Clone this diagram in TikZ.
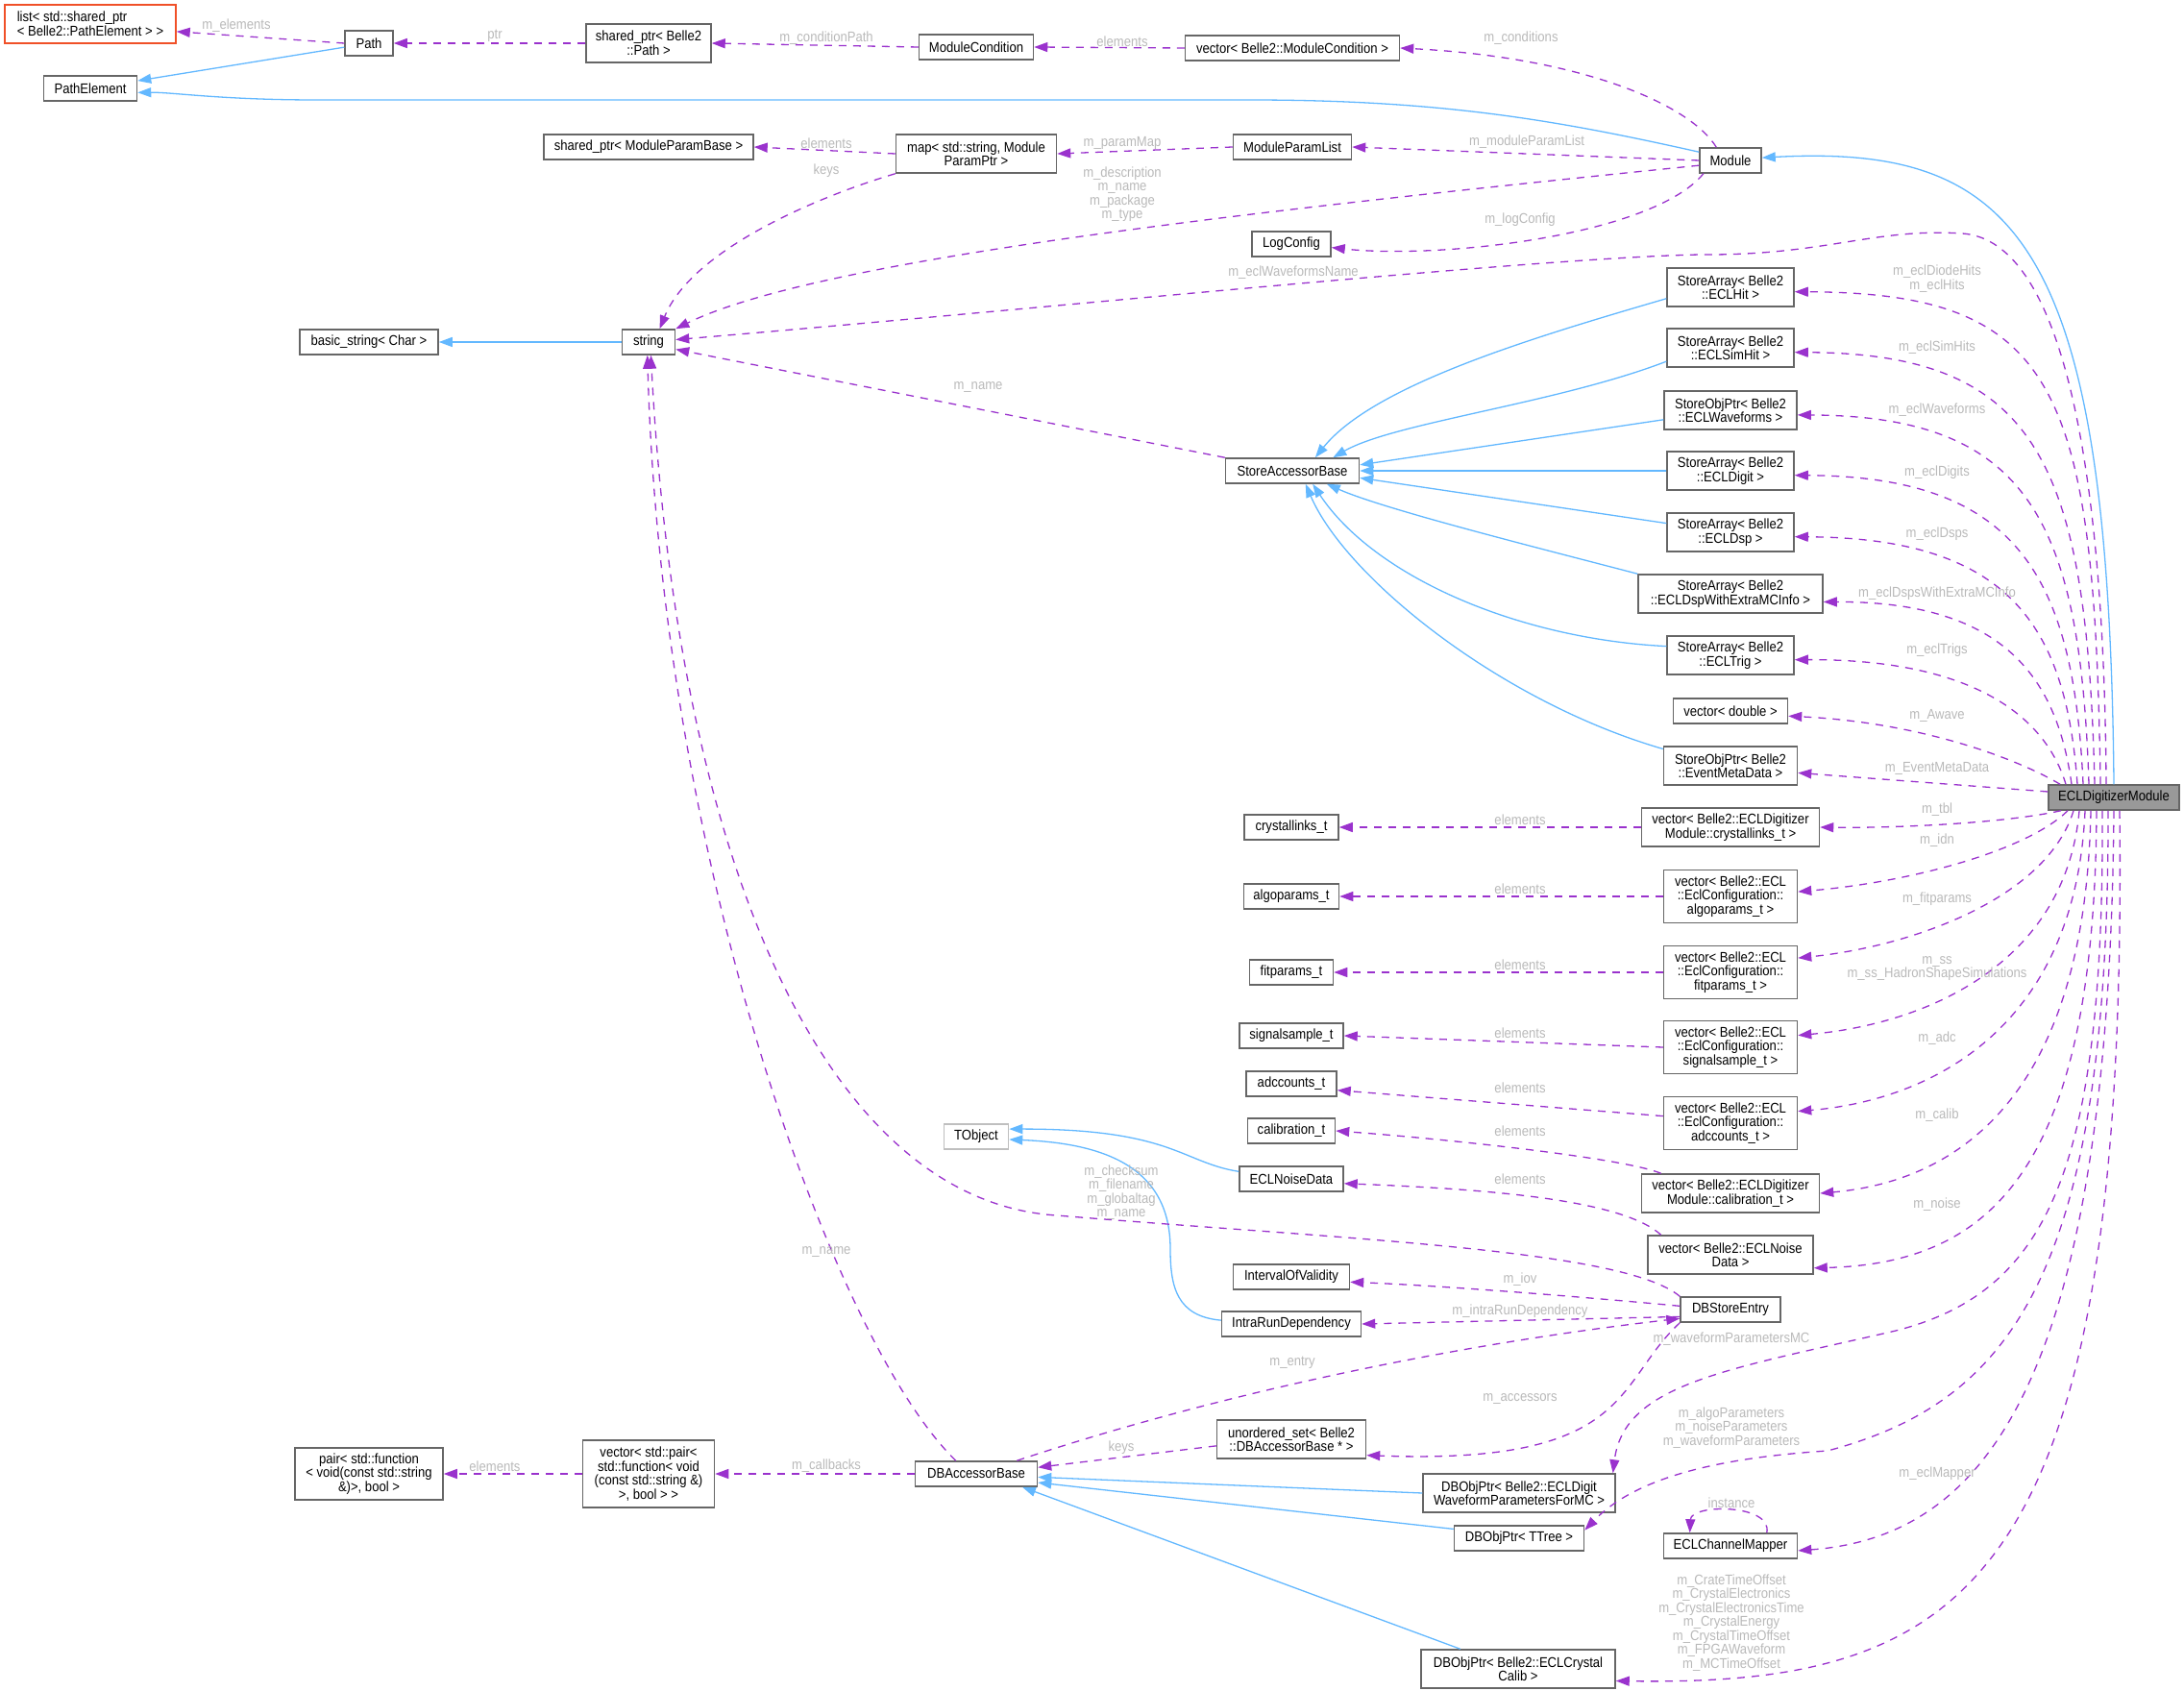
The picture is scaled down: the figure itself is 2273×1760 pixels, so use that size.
\documentclass[tikz,border=0pt]{standalone}
\usepackage{fontspec}
\setmainfont{Liberation Sans}[FakeStretch=0.89]
\usetikzlibrary{arrows.meta}
\definecolor{inhblue}{RGB}{99,184,255}
\definecolor{usepurple}{RGB}{154,50,205}
\definecolor{boxgray}{RGB}{102,102,102}
\definecolor{lblgray}{RGB}{185,185,185}
\definecolor{trunc}{RGB}{240,80,40}
\definecolor{extgray}{RGB}{191,191,191}
\definecolor{mainfill}{RGB}{153,153,153}
\begin{document}
\begin{tikzpicture}[x=1pt,y=-1pt]
  \tikzstyle{every node}=[font=\fontsize{14.7}{14.5}\selectfont]
  \tikzstyle{box}=[draw=boxgray,line width=1.5pt,fill=white,align=center,inner sep=0pt,minimum height=26pt]
  \tikzstyle{lbl}=[text=lblgray,align=center,inner sep=0pt]
  \tikzstyle{inh}=[draw=inhblue,line width=1.3pt,-{Triangle[length=14pt,width=10pt]}]
  \tikzstyle{mem}=[draw=usepurple,line width=1.3pt,dash pattern=on 8pt off 7pt,-{Triangle[length=14pt,width=10pt]}]
  \useasboundingbox (0,0) rectangle (2273,1760);
  % left part
  \node[box,draw=trunc,align=left,minimum width=178pt,minimum height=40pt] (listsp) at (94,25) {list< std::shared\_ptr\\< Belle2::PathElement > >};
  \node[box,minimum width=97pt] (pathelem) at (94,92) {PathElement};
  \node[box,minimum width=50pt] (path) at (384,45) {Path};
  \node[box,minimum width=144pt] (basicstring) at (384,356) {basic\_string< Char >};
  \node[box,minimum width=154pt,minimum height=54pt] (pair) at (384,1534) {pair< std::function\\< void(const std::string\\\&)>, bool >};
  \node[box,minimum width=130pt,minimum height=40pt] (sharedpath) at (675,45) {shared\_ptr< Belle2\\::Path >};
  \node[box,minimum width=218pt] (sharedmpb) at (675,153) {shared\_ptr< ModuleParamBase >};
  \node[box,minimum width=55pt] (string) at (675,356) {string};
  \node[box,minimum width=137pt,minimum height=70pt] (vecpair) at (675,1534) {vector< std::pair<\\std::function< void\\(const std::string \&)\\>, bool > >};
  % middle columns
  \node[box,minimum width=119pt] (modcond) at (1016,49) {ModuleCondition};
  \node[box,minimum width=167pt,minimum height=40pt] (mapparam) at (1016,160) {map< std::string, Module\\ParamPtr >};
  \node[box,draw=extgray,minimum width=67pt] (tobject) at (1016,1183) {TObject};
  \node[box,minimum width=127pt] (dba) at (1016,1534) {DBAccessorBase};
  \node[box,minimum width=223pt] (vecmodcond) at (1345,50) {vector< Belle2::ModuleCondition >};
  \node[box,minimum width=123pt] (mplist) at (1345,153) {ModuleParamList};
  \node[box,minimum width=82pt] (logconfig) at (1344,254) {LogConfig};
  \node[box,minimum width=139pt] (sab) at (1345,490) {StoreAccessorBase};
  \node[box,minimum width=98pt] (crystallinks) at (1344,861) {crystallinks\_t};
  \node[box,minimum width=99pt] (algoparams) at (1344,933) {algoparams\_t};
  \node[box,minimum width=87pt] (fitparams) at (1344,1012) {fitparams\_t};
  \node[box,minimum width=108pt] (signalsample) at (1344,1078) {signalsample\_t};
  \node[box,minimum width=94pt] (adccounts) at (1344,1128) {adccounts\_t};
  \node[box,minimum width=91pt] (calibration) at (1344,1177) {calibration\_t};
  \node[box,minimum width=108pt] (noisedata) at (1344,1227) {ECLNoiseData};
  \node[box,minimum width=121pt] (iov) at (1344,1329) {IntervalOfValidity};
  \node[box,minimum width=145pt] (intrarun) at (1344,1378) {IntraRunDependency};
  \node[box,minimum width=155pt,minimum height=40pt] (unordered) at (1344,1498) {unordered\_set< Belle2\\::DBAccessorBase * >};
  \node[box,minimum width=200pt,minimum height=40pt] (dbwave) at (1581,1554) {DBObjPtr< Belle2::ECLDigit\\WaveformParametersForMC >};
  \node[box,minimum width=135pt] (dbtree) at (1581,1601) {DBObjPtr< TTree >};
  \node[box,minimum width=202pt,minimum height=40pt] (dbcrystal) at (1580,1737) {DBObjPtr< Belle2::ECLCrystal\\Calib >};
  % right column
  \node[box,minimum width=64pt] (module) at (1801,167) {Module};
  \node[box,minimum width=132pt,minimum height=40pt] (eclhit) at (1801,299) {StoreArray< Belle2\\::ECLHit >};
  \node[box,minimum width=132pt,minimum height=40pt] (eclsimhit) at (1801,362) {StoreArray< Belle2\\::ECLSimHit >};
  \node[box,minimum width=138pt,minimum height=40pt] (eclwave) at (1801,427) {StoreObjPtr< Belle2\\::ECLWaveforms >};
  \node[box,minimum width=132pt,minimum height=40pt] (ecldigit) at (1801,490) {StoreArray< Belle2\\::ECLDigit >};
  \node[box,minimum width=132pt,minimum height=40pt] (ecldsp) at (1801,554) {StoreArray< Belle2\\::ECLDsp >};
  \node[box,minimum width=192pt,minimum height=40pt] (extramc) at (1801,618) {StoreArray< Belle2\\::ECLDspWithExtraMCInfo >};
  \node[box,minimum width=132pt,minimum height=40pt] (ecltrig) at (1801,682) {StoreArray< Belle2\\::ECLTrig >};
  \node[box,minimum width=119pt] (vecdouble) at (1801,740) {vector< double >};
  \node[box,minimum width=139pt,minimum height=40pt] (eventmeta) at (1801,797) {StoreObjPtr< Belle2\\::EventMetaData >};
  \node[box,minimum width=185pt,minimum height=40pt] (veccrystal) at (1801,861) {vector< Belle2::ECLDigitizer\\Module::crystallinks\_t >};
  \node[box,minimum width=139pt,minimum height=55pt] (vecalgo) at (1801,933) {vector< Belle2::ECL\\::EclConfiguration::\\algoparams\_t >};
  \node[box,minimum width=139pt,minimum height=55pt] (vecfit) at (1801,1012) {vector< Belle2::ECL\\::EclConfiguration::\\fitparams\_t >};
  \node[box,minimum width=139pt,minimum height=55pt] (vecsignal) at (1801,1090) {vector< Belle2::ECL\\::EclConfiguration::\\signalsample\_t >};
  \node[box,minimum width=139pt,minimum height=55pt] (vecadc) at (1801,1169) {vector< Belle2::ECL\\::EclConfiguration::\\adccounts\_t >};
  \node[box,minimum width=185pt,minimum height=40pt] (veccalib) at (1801,1242) {vector< Belle2::ECLDigitizer\\Module::calibration\_t >};
  \node[box,minimum width=172pt,minimum height=40pt] (vecnoise) at (1801,1306) {vector< Belle2::ECLNoise\\Data >};
  \node[box,minimum width=104pt] (dbstore) at (1801,1363) {DBStoreEntry};
  \node[box,minimum width=139pt] (mapper) at (1801,1609) {ECLChannelMapper};
  \node[box,fill=mainfill,minimum width=136pt] (edm) at (2200,830) {ECLDigitizerModule};
  % inheritance
  \draw[inh] (path) -- (pathelem);
  \draw[inh] (module.165) .. controls (1620,125) and (1500,104) .. (1300,104) -- (330,104) .. controls (230,104) and (180,96) .. (pathelem.-5);
  \draw[inh] (edm.north) .. controls (2195,250) and (2100,150) .. (module.5);
  \draw[inh] (string) -- (basicstring);
  \draw[inh] (eclhit.190) .. controls (1600,350) and (1430,400) .. (sab.30);
  \draw[inh] (eclsimhit.192) .. controls (1620,420) and (1450,440) .. (sab.18);
  \draw[inh] (eclwave.188) -- (sab.5);
  \draw[inh] (ecldigit) -- (sab);
  \draw[inh] (ecldsp.172) -- (sab.-6);
  \draw[inh] (extramc.north west) .. controls (1600,570) and (1440,530) .. (sab.-21);
  \draw[inh] (ecltrig.172) .. controls (1580,665) and (1430,600) .. (sab.-33);
  \draw[inh] (eventmeta.166) .. controls (1560,730) and (1400,600) .. (sab.-45);
  \draw[inh] (noisedata.172) .. controls (1230,1210) and (1220,1175) .. (tobject.13);
  \draw[inh] (intrarun.177) .. controls (1225,1370) and (1218,1340) .. (1218,1300) .. controls (1218,1215) and (1150,1190) .. (tobject.-5);
  \draw[inh] (dbwave.west) -- (dba.-3);
  \draw[inh] (dbtree.172) -- (dba.-8);
  \draw[inh] (dbcrystal.161) -- (dba.-16);
  % members, top left
  \draw[mem] (path.west) -- (listsp.-5);
  \draw[mem] (sharedpath.west) -- (path.east);
  \draw[mem] (modcond.west) -- (sharedpath.east);
  \draw[mem] (vecmodcond.west) -- (modcond.east);
  \draw[mem] (module.137) .. controls (1760,110) and (1650,60) .. (vecmodcond.east);
  \draw[mem] (module.west) -- (mplist.east);
  \draw[mem] (mplist.west) -- (mapparam.east);
  \draw[mem] (mapparam.west) -- (sharedmpb.east);
  \draw[mem] (mapparam.south west) .. controls (850,205) and (720,260) .. (string.50);
  \draw[mem] (module.189) .. controls (1300,220) and (850,270) .. (string.north east);
  \draw[mem] (module.206) .. controls (1720,245) and (1500,270) .. (logconfig.-5);
  \draw[mem] ([xshift=-8pt]edm.north) .. controls (2190,500) and (2150,250) .. (2042,243) .. controls (1950,237) and (1900,266) .. (1770,265) .. controls (1600,268) and (1100,320) .. (string.5);
  \draw[mem] (sab.north west) -- (string.-15);
  % members of ECLDigitizerModule, upwards
  \draw[mem] ([xshift=-14pt]edm.north) .. controls (2180,400) and (2140,305) .. (eclhit.-4);
  \draw[mem] ([xshift=-20pt]edm.north) .. controls (2172,480) and (2120,368) .. (eclsimhit.-4);
  \draw[mem] ([xshift=-26pt]edm.north) .. controls (2165,540) and (2110,433) .. (eclwave.-4);
  \draw[mem] ([xshift=-32pt]edm.north) .. controls (2158,600) and (2100,496) .. (ecldigit.-4);
  \draw[mem] ([xshift=-38pt]edm.north) .. controls (2150,650) and (2090,560) .. (ecldsp.-4);
  \draw[mem] ([xshift=-44pt]edm.north) .. controls (2140,700) and (2080,626) .. (extramc.-5);
  \draw[mem] ([xshift=-50pt]edm.north) .. controls (2130,750) and (2060,686) .. (ecltrig.-4);
  \draw[mem] ([xshift=-56pt]edm.north) .. controls (2100,790) and (2000,752) .. (vecdouble.-5);
  \draw[mem] (edm.175) -- (eventmeta.-6);
  % members of ECLDigitizerModule, downwards
  \draw[mem] ([xshift=-55pt]edm.south) .. controls (2080,858) and (1960,862) .. (veccrystal.east);
  \draw[mem] ([xshift=-48pt]edm.south) .. controls (2110,885) and (1990,918) .. (vecalgo.4);
  \draw[mem] ([xshift=-42pt]edm.south) .. controls (2130,935) and (1990,985) .. (vecfit.12);
  \draw[mem] ([xshift=-36pt]edm.south) .. controls (2150,1000) and (2010,1065) .. (vecsignal.10);
  \draw[mem] ([xshift=-30pt]edm.south) .. controls (2160,1070) and (2010,1145) .. (vecadc.10);
  \draw[mem] ([xshift=-24pt]edm.south) .. controls (2170,1150) and (2030,1230) .. (veccalib.east);
  \draw[mem] ([xshift=-18pt]edm.south) .. controls (2180,1220) and (2070,1315) .. (vecnoise.-9);
  \draw[mem] ([xshift=-12pt]edm.south) .. controls (2190,1220) and (2130,1345) .. (1973,1385) .. controls (1800,1425) and (1690,1440) .. (dbwave.12);
  \draw[mem] ([xshift=-6pt]edm.south) .. controls (2195,1330) and (2090,1460) .. (1902,1510) .. controls (1780,1518) and (1700,1540) .. (dbtree.7);
  \draw[mem] (edm.south) .. controls (2195,1450) and (2060,1600) .. (mapper.-4);
  \draw[mem] ([xshift=6pt]edm.south) .. controls (2215,1650) and (2050,1755) .. (dbcrystal.-7);
  \draw[mem] (mapper.20) .. controls (1845,1565) and (1760,1565) .. (mapper.162);
  % elements of the vectors
  \draw[mem] (veccrystal.west) -- (crystallinks.east);
  \draw[mem] (vecalgo.west) -- (algoparams.east);
  \draw[mem] (vecfit.west) -- (fitparams.east);
  \draw[mem] (vecsignal.west) -- (signalsample.east);
  \draw[mem] (vecadc.174) -- (adccounts.-8);
  \draw[mem] (veccalib.164) .. controls (1690,1205) and (1500,1185) .. (calibration.east);
  \draw[mem] (vecnoise.164) .. controls (1690,1250) and (1560,1238) .. (noisedata.-5);
  % database part
  \draw[mem] (dbstore.north west) .. controls (1690,1300) and (1400,1290) .. (1100,1265) .. controls (860,1250) and (705,900) .. (string.-80);
  \draw[mem] (dba.147) .. controls (870,1400) and (688,900) .. (string.-95);
  \draw[mem] (dbstore.176) .. controls (1650,1350) and (1500,1338) .. (iov.-5);
  \draw[mem] (dbstore.188) -- (intrarun.east);
  \draw[mem] (dbstore.south west) .. controls (1680,1440) and (1700,1525) .. (unordered.-12);
  \draw[mem] (dba.18) .. controls (1300,1440) and (1550,1395) .. (dbstore.190);
  \draw[mem] (unordered.185) -- (dba.6);
  \draw[mem] (dba.west) -- (vecpair.east);
  \draw[mem] (vecpair.west) -- (pair.east);
  % edge labels
  \node[lbl] (lpelem) at (246,27) {m\_elements};
  \node[lbl] (lptr) at (515,37) {ptr};
  \node[lbl] (lcondpath) at (860,40) {m\_conditionPath};
  \node[lbl] (lcondelem) at (1168,43) {elements};
  \node[lbl] (lconds) at (1583,40) {m\_conditions};
  \node[lbl] (lmpbelem) at (860,149) {elements};
  \node[lbl] (lkeys) at (860,178) {keys};
  \node[lbl] (lparammap) at (1168,149) {m\_paramMap};
  \node[lbl] (lmplist) at (1589,148) {m\_moduleParamList};
  \node[lbl] (ldescr) at (1168,202) {m\_description\\m\_name\\m\_package\\m\_type};
  \node[lbl] (llogcfg) at (1582,229) {m\_logConfig};
  \node[lbl] (lwfname) at (1346,284) {m\_eclWaveformsName};
  \node[lbl] (lsabname) at (1018,403) {m\_name};
  \node[lbl] (lhits) at (2016,290) {m\_eclDiodeHits\\m\_eclHits};
  \node[lbl] (lsimhits) at (2016,362) {m\_eclSimHits};
  \node[lbl] (lwave) at (2016,427) {m\_eclWaveforms};
  \node[lbl] (ldigits) at (2016,492) {m\_eclDigits};
  \node[lbl] (ldsps) at (2016,556) {m\_eclDsps};
  \node[lbl] (lextramc) at (2016,618) {m\_eclDspsWithExtraMCInfo};
  \node[lbl] (ltrigs) at (2016,677) {m\_eclTrigs};
  \node[lbl] (lawave) at (2016,745) {m\_Awave};
  \node[lbl] (lmeta) at (2016,800) {m\_EventMetaData};
  \node[lbl] (ltbl) at (2016,843) {m\_tbl};
  \node[lbl] (lidn) at (2016,875) {m\_idn};
  \node[lbl] (lfit) at (2016,936) {m\_fitparams};
  \node[lbl] (lss) at (2016,1008) {m\_ss\\m\_ss\_HadronShapeSimulations};
  \node[lbl] (ladc) at (2016,1081) {m\_adc};
  \node[lbl] (lcalib) at (2016,1161) {m\_calib};
  \node[lbl] (lnoise) at (2016,1254) {m\_noise};
  \node[lbl] (lelcrys) at (1582,853) {elements};
  \node[lbl] (lelalgo) at (1582,925) {elements};
  \node[lbl] (lelfit) at (1582,1004) {elements};
  \node[lbl] (lelsig) at (1582,1075) {elements};
  \node[lbl] (leladc) at (1582,1132) {elements};
  \node[lbl] (lelcal) at (1582,1177) {elements};
  \node[lbl] (lelnoise) at (1582,1227) {elements};
  \node[lbl] (lchecksum) at (1167,1241) {m\_checksum\\m\_filename\\m\_globaltag\\m\_name};
  \node[lbl] (ldbaname) at (860,1303) {m\_name};
  \node[lbl] (liov) at (1582,1332) {m\_iov};
  \node[lbl] (lintra) at (1582,1365) {m\_intraRunDependency};
  \node[lbl] (lwfmc) at (1802,1394) {m\_waveformParametersMC};
  \node[lbl] (lentry) at (1345,1418) {m\_entry};
  \node[lbl] (laccess) at (1582,1456) {m\_accessors};
  \node[lbl] (lparams) at (1802,1486) {m\_algoParameters\\m\_noiseParameters\\m\_waveformParameters};
  \node[lbl] (lmapper) at (2016,1534) {m\_eclMapper};
  \node[lbl] (linst) at (1802,1564) {instance};
  \node[lbl] (lcrys) at (1802,1689) {m\_CrateTimeOffset\\m\_CrystalElectronics\\m\_CrystalElectronicsTime\\m\_CrystalEnergy\\m\_CrystalTimeOffset\\m\_FPGAWaveform\\m\_MCTimeOffset};
  \node[lbl] (lkeys2) at (1167,1507) {keys};
  \node[lbl] (lcallb) at (860,1526) {m\_callbacks};
  \node[lbl] (lpairel) at (515,1526) {elements};
\end{tikzpicture}
\end{document}
